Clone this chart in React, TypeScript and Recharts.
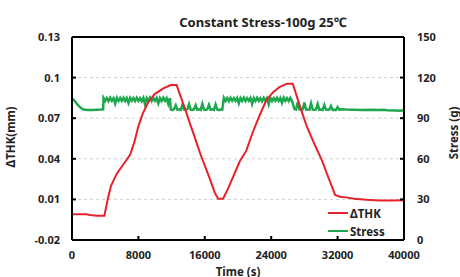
import { ComposedChart, Line, XAxis, YAxis, CartesianGrid, ReferenceLine } from 'recharts'

const timeTicks = [0, 8000, 16000, 24000, 32000, 40000]
const thkTicks = [-0.02, 0.01, 0.04, 0.07, 0.1, 0.13]
const stressTicks = [0, 30, 60, 90, 120, 150]

// ΔTHK (mm)
const thkTime = [
  0, 1700, 2200, 3000, 3900, 4300, 4700, 5400, 6200, 7000, 7500, 8000, 8500, 9200, 10000, 11000, 11900, 12600,
  13500, 14500, 15500, 16500, 17200, 17600, 18200, 18800, 19400, 20200, 21000, 21800, 22600, 23400, 24200, 25000,
  25900, 26600, 27400, 28300, 29200, 30100, 30900, 31700, 32300, 33000, 34000, 35500, 37000, 38500, 40000,
]
const thkValue = [
  -0.001, -0.001, -0.0015, -0.002, -0.002, 0.01, 0.02, 0.029, 0.036, 0.043, 0.052, 0.064, 0.073, 0.082, 0.088, 0.092,
  0.0945, 0.0945, 0.079, 0.061, 0.043, 0.027, 0.015, 0.0105, 0.0105, 0.018, 0.0265, 0.038, 0.046, 0.06, 0.072, 0.083,
  0.089, 0.093, 0.0955, 0.0955, 0.08, 0.0637, 0.051, 0.039, 0.026, 0.0133, 0.012, 0.0115, 0.0105, 0.0097, 0.0092,
  0.0092, 0.0093,
]

// Stress (g)
const stressStartTime = [0, 300, 600, 900, 1200, 1500, 2000, 2500, 3000, 3500, 3750]
const stressStartValue = [104.5, 103, 100.5, 98.5, 97, 96.2, 96, 96, 96.3, 96.4, 96.5]
// sampled every 200 s
const highPhase1 = [
  105, 102.8, 104.9, 102.6, 105.1, 102.9, 104.8, 100.8, 105, 102.7, 104.9, 102.8, 105.1, 102.6, 104.8, 101.2, 105,
  102.9, 104.9, 102.7, 105.1, 102.8, 104.8, 102.5, 105, 100.2, 104.9, 102.8, 105.1, 102.6, 104.8, 102.9, 105, 101,
  104.9, 102.7, 105.1, 102.8, 104.8, 100.5, 104.9,
]
const lowPhase1 = [
  96.5, 96, 96.8, 99.5, 96.2, 96.6, 96.1, 99.8, 96.4, 96.2, 96.7, 100.4, 96.3, 96.1, 96.6, 99.6, 96.2, 96.5, 96, 100.6,
  96.3, 96.1, 96.6, 99.9, 96.2, 96.5, 96.1, 100.2, 96.4, 96, 96.6, 96.3,
]
const highPhase2 = [
  105, 102.8, 104.9, 102.6, 105.1, 102.9, 104.8, 102.7, 105, 101, 104.9, 102.8, 105.1, 102.6, 104.8, 102.9, 105,
  100.6, 104.9, 102.7, 105.1, 102.8, 104.8, 102.5, 105, 102.9, 104.9, 100.3, 105.1, 102.6, 104.8, 102.9, 105, 102.7,
  104.9, 101.4, 105.1, 102.8, 104.8, 102.6, 105, 102.8,
]
const lowPhase2 = [
  96.8, 96.4, 102, 96.5, 96.3, 96.6, 101.5, 96.3, 96.5, 96.2, 101, 96.4, 96.3, 96.5, 100.5, 96.2, 96.4, 96.1, 99.8,
  96.3, 96.2, 96.4, 99, 96.2, 96.3, 96.1, 98.2, 96.2,
]
const stressTailTime = [32400, 33000, 34000, 35000, 36000, 37000, 37500, 38000, 39000, 39600, 40000]
const stressTailValue = [96.6, 96.4, 96.3, 96.1, 96.2, 96, 96.3, 95.8, 95.6, 95.5, 96]

const thkData = thkTime.map((t, i) => ({ t, thk: thkValue[i] }))

const phase = (start: number, values: number[]) => values.map((v, i) => ({ t: start + i * 200, stress: v }))
const stressData = [
  ...stressStartTime.map((t, i) => ({ t, stress: stressStartValue[i] })),
  ...phase(3800, highPhase1),
  ...phase(11900, lowPhase1),
  ...phase(18300, highPhase2),
  ...phase(26800, lowPhase2),
  ...stressTailTime.map((t, i) => ({ t, stress: stressTailValue[i] })),
]

const FONT = "'Noto Sans', 'DejaVu Sans', sans-serif"
const tickStyle = { fontSize: 11, fontWeight: 700, fill: '#222', fontFamily: FONT }
const textStyle = { position: 'absolute' as const, fontFamily: FONT, fontWeight: 700, color: '#222', whiteSpace: 'nowrap' as const }

export default function App() {
  return (
    <div style={{ position: 'absolute', left: 0, top: 0, width: 460, height: 277, background: '#fff' }}>
      <ComposedChart width={460} height={277} margin={{ top: 37, right: 0, bottom: 0, left: 0 }}>
        <CartesianGrid vertical={false} stroke="#cfcfcf" strokeDasharray="3 3" />
        <XAxis
          dataKey="t"
          type="number"
          domain={[0, 40000]}
          ticks={timeTicks}
          allowDataOverflow
          height={37}
          tick={tickStyle}
          tickSize={-4}
          tickMargin={15}
          axisLine={{ stroke: '#000', strokeWidth: 2 }}
          tickLine={{ stroke: '#000', strokeWidth: 2 }}
        />
        <YAxis
          domain={[-0.02, 0.13]}
          ticks={thkTicks}
          allowDataOverflow
          width={72}
          tick={tickStyle}
          tickSize={-4}
          tickMargin={16}
          axisLine={{ stroke: '#000', strokeWidth: 2 }}
          tickLine={{ stroke: '#000', strokeWidth: 2 }}
        />
        <YAxis
          yAxisId="right"
          orientation="right"
          domain={[0, 150]}
          ticks={stressTicks}
          width={56}
          tick={{ ...tickStyle, textAnchor: 'start' }}
          tickSize={-4}
          tickMargin={17}
          axisLine={{ stroke: '#000', strokeWidth: 2 }}
          tickLine={{ stroke: '#000', strokeWidth: 2 }}
        />
        <ReferenceLine y={0.13} stroke="#000" strokeWidth={2} />
        <Line
          yAxisId="right"
          data={stressData}
          dataKey="stress"
          type="linear"
          stroke="#1ea84e"
          strokeWidth={2.5}
          dot={false}
          isAnimationActive={false}
        />
        <Line
          data={thkData}
          dataKey="thk"
          type="linear"
          stroke="#e8202a"
          strokeWidth={2}
          dot={false}
          isAnimationActive={false}
        />
      </ComposedChart>

      <div style={{ ...textStyle, left: 263, top: 22, fontSize: 13, transform: 'translate(-50%, -50%)' }}>
        Constant Stress-100g 25℃
      </div>
      <div style={{ ...textStyle, left: 238, top: 271, fontSize: 11.5, transform: 'translate(-50%, -50%)' }}>
        Time (s)
      </div>
      <div style={{ ...textStyle, left: 10, top: 137, fontSize: 11.5, transform: 'translate(-50%, -50%) rotate(-90deg)' }}>
        ΔTHK(mm)
      </div>
      <div style={{ ...textStyle, left: 453, top: 133, fontSize: 11.5, transform: 'translate(-50%, -50%) rotate(-90deg)' }}>
        Stress (g)
      </div>

      <div style={{ position: 'absolute', left: 328, top: 204 }}>
        <div style={{ display: 'flex', alignItems: 'center', height: 18 }}>
          <span style={{ display: 'inline-block', width: 20, height: 2, background: '#e8202a' }} />
          <span style={{ ...textStyle, position: 'static', fontSize: 11.5, marginLeft: 2 }}>ΔTHK</span>
        </div>
        <div style={{ display: 'flex', alignItems: 'center', height: 18 }}>
          <span style={{ display: 'inline-block', width: 20, height: 2, background: '#1ea84e' }} />
          <span style={{ ...textStyle, position: 'static', fontSize: 11.5, marginLeft: 2 }}>Stress</span>
        </div>
      </div>
    </div>
  )
}
